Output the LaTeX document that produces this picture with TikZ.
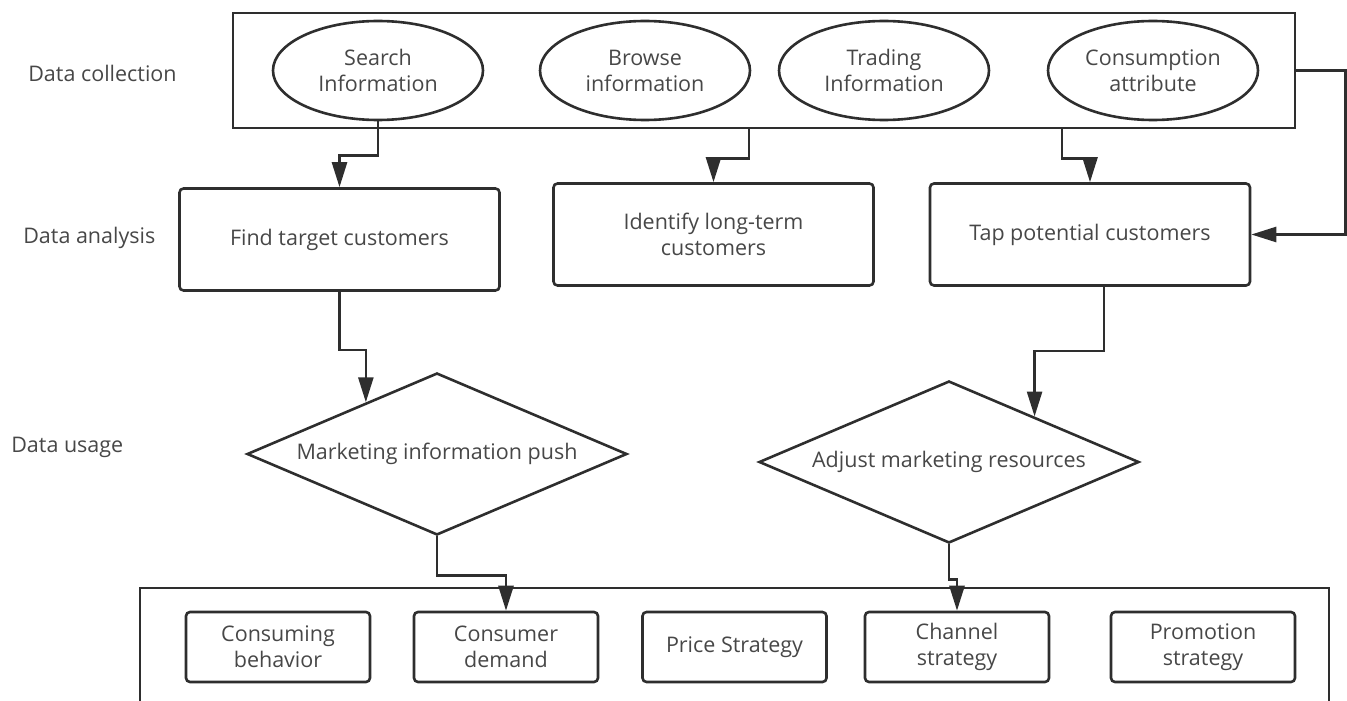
\documentclass[tikz,border=0pt]{standalone}
\usepackage{fontspec}
\setmainfont{Open Sans}
\usetikzlibrary{shapes.geometric, arrows.meta}

\tikzset{
	lbl/.style={font=\fontsize{21.5}{26}\selectfont, text=black!72},
	info/.style={draw, ellipse, minimum width=210pt, minimum height=99pt, inner sep=0pt, align=center, lbl},
	task/.style={draw, rounded corners=4pt, minimum width=320pt, minimum height=102pt, align=center, lbl},
	decide/.style={draw, diamond, shape aspect=2.35, minimum width=380pt, minimum height=162pt, inner sep=0pt, lbl},
	item/.style={draw, rounded corners=4pt, minimum width=184pt, minimum height=70pt, align=center, lbl},
	flow/.style={-{Triangle[length=25pt, width=15pt]}},
}

\begin{document}
\begin{tikzpicture}[x=1pt, y=-1pt, line width=2.6pt, color=black!82]
		\useasboundingbox (0,0) rectangle (1347,701);

		% stages
		\node[lbl, anchor=west, inner sep=0pt] (lcollect) at (27,73) {Data collection};
		\node[lbl, anchor=west, inner sep=0pt] (lanalysis) at (22,238) {Data analysis};
		\node[lbl, anchor=west, inner sep=0pt] (lusage) at (10,447) {Data usage};

		% collection
		\node[draw, minimum width=1062pt, minimum height=115pt] (collect) at (764,70.5) {};
		\node[info] (search) at (378,70.5) {Search\\Information};
		\node[info] (browse) at (645,70.5) {Browse\\information};
		\node[info] (trade) at (884,70.5) {Trading\\Information};
		\node[info] (consume) at (1153,70.5) {Consumption\\attribute};

		% analysis
		\node[task] (find) at (339.5,239.5) {Find target customers};
		\node[task] (identify) at (713.5,234.5) {Identify long-term\\customers};
		\node[task] (tap) at (1090,234.5) {Tap potential customers};

		% usage
		\node[decide] (push) at (437,454) {Marketing information push};
		\node[decide] (adjust) at (949,462) {Adjust marketing resources};

		% strategies, frame runs off the bottom
		\draw (140,705) |- (1329,588) -- (1329,705);
		\foreach \name/\x/\txt in {behave/278/{Consuming\\behavior}, demand/506/{Consumer\\demand},
				price/734.5/{Price Strategy}, channel/957/{Channel\\strategy}, promo/1203/{Promotion\\strategy}} {
			\node[item] (\name) at (\x,647) {\txt};
		}

		\draw[flow] (search.south) -- ++(0,34) -| (find.north);
		\draw[flow] ([xshift=-15pt]collect.south) -- ++(0,29) -| (identify.north);
		\draw[flow] ([xshift=298pt]collect.south) -- ++(0,29) -| (tap.north);
		\draw[flow] (collect.east) -- ++(49,0) |- (tap.east);
		\draw[flow] (find.south) -- ++(0,58) -| (push.144);
		\draw[flow] ([xshift=14pt]tap.south) -- ++(0,64) -| (adjust.28);
		\draw[flow] (push.south) -- ++(0,39) -| (demand.north);
		\draw[flow] (adjust.south) -- ++(0,35) -| (channel.north);
	\end{tikzpicture}
\end{document}
